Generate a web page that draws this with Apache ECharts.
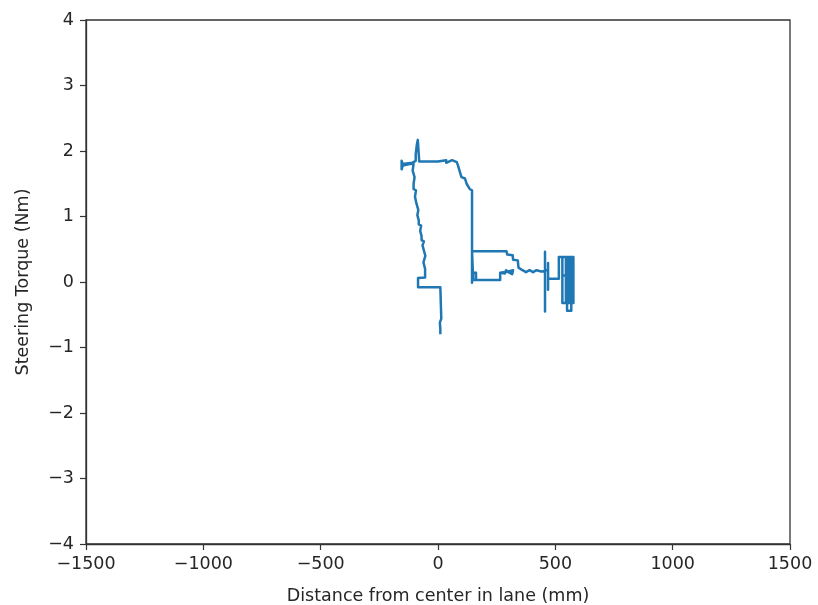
<!DOCTYPE html>
<html>
<head>
<meta charset="utf-8">
<script src="https://cdn.jsdelivr.net/npm/echarts@6/dist/echarts.min.js"></script>
<style>
  html, body { margin: 0; padding: 0; background: #fff; }
  #chart { width: 818px; height: 605px; }
</style>
</head>
<body>
<div id="chart"></div>
<script>
// Lateral offset in lane (mm) versus steering torque (Nm), in recorded order.
// Each row of distanceMm pairs with the same row of torqueNm (same count).
const distanceMm = [
  10, 10, 8, 14, 10, 10, -85, -85, -55, -55,                 // 10
  -62, -62, -54, -54, -60, -60, -66, -66, -60, -60,          // 10
  -70, -70, -76, -76, -72, -72, -82, -82, -88, -88,          // 10
  -84, -84, -92, -92, -98, -98, -94, -94, -104, -104,        // 10
  -100, -100, -108, -108, -104, -104, -120, -150, -155, -155, // 10
  -150, -110, -95, -95, -90, -90, -86, -86, -80, -80,        // 10
  0, 8, 8, 35, 35, 60, 62, 80, 85, 92,                       // 10
  95, 100, 115, 122, 130, 135, 145, 145,                     // 8
  145, 145, 265, 265, 285, 290, 300, 316, 320, 300, 265, 265, // 12
  162, 162, 150, 150, 145,                                   // 5
  145, 292, 295, 318, 320, 340, 343, 360, 375, 390, 405, 420, 440, // 13
  456, 456, 456, 456, 469, 469, 469, 469, 515, 515,          // 10
  577, 577, 530, 530, 545, 545, 560, 560, 550, 550,          // 10
  568, 568, 568, 540                                         // 4
];
const torqueNm = [
  -0.78, -0.72, -0.62, -0.56, -0.55, -0.08, -0.08, 0.06, 0.07, 0.2,   // 10
  0.22, 0.3, 0.32, 0.4, 0.42, 0.48, 0.5, 0.56, 0.58, 0.62,            // 10
  0.64, 0.7, 0.72, 0.78, 0.8, 0.86, 0.88, 0.94, 0.96, 1.02,           // 10
  1.04, 1.1, 1.12, 1.2, 1.22, 1.3, 1.32, 1.4, 1.42, 1.5,              // 10
  1.52, 1.6, 1.62, 1.7, 1.72, 1.8, 1.8, 1.78, 1.72, 1.85,             // 10
  1.8, 1.82, 1.85, 1.95, 1.97, 2.1, 2.12, 2.17, 2.17, 1.84,           // 10
  1.84, 1.84, 1.86, 1.86, 1.82, 1.86, 1.83, 1.83, 1.78, 1.75,         // 10
  1.66, 1.6, 1.58, 1.5, 1.48, 1.42, 1.4, 1.36,                        // 8
  -0.01, 0.03, 0.03, 0.14, 0.13, 0.18, 0.15, 0.12, 0.18, 0.16, 0.14, 0.03, // 12
  0.03, 0.14, 0.14, 0.03, 0.03,                                       // 5
  0.47, 0.47, 0.42, 0.41, 0.34, 0.33, 0.22, 0.18, 0.15, 0.18, 0.15, 0.18, 0.16,  // 13
  0.17, 0.46, -0.45, 0.18, 0.18, 0.29, -0.12, 0.05, 0.05, 0.38,       // 10
  0.38, -0.32, -0.32, 0.38, 0.38, -0.3, -0.3, 0.38, 0.38, -0.44,      // 10
  -0.44, 0.36, 0.1, 0.1                                               // 4
];

const xTicks = [-1500, 1500, 500];   // min, max, step
const yTicks = [-4, 4, 1];

const points = distanceMm.map((d, i) => [d, torqueNm[i]]);
const minus = v => String(v).replace('-', '\u2212');
const font = 'DejaVu Sans';
const textColor = '#262626';
const axisColor = '#333333';

const chart = echarts.init(document.getElementById('chart'), null, { renderer: 'canvas' });
chart.setOption({
  animation: false,
  backgroundColor: '#ffffff',
  grid: {
    left: 86, right: 28, top: 20, bottom: 61,
    containLabel: false,
    outerBoundsMode: 'none',
    show: true, borderColor: axisColor, borderWidth: 1.3, backgroundColor: 'transparent'
  },
  xAxis: {
    type: 'value',
    min: xTicks[0], max: xTicks[1], interval: xTicks[2],
    name: 'Distance from center in lane (mm)',
    nameLocation: 'middle', nameGap: 43,
    nameTextStyle: { fontFamily: font, fontSize: 17.5, color: textColor },
    axisLine: { show: true, onZero: false, lineStyle: { color: axisColor, width: 1.3 } },
    axisTick: { show: true, inside: false, length: 6, lineStyle: { color: axisColor, width: 1.2 } },
    axisLabel: { fontFamily: font, fontSize: 17.5, color: textColor, margin: 11, formatter: minus },
    splitLine: { show: false }
  },
  yAxis: {
    type: 'value',
    min: yTicks[0], max: yTicks[1], interval: yTicks[2],
    name: 'Steering Torque (Nm)',
    nameLocation: 'middle', nameGap: 54,
    nameTextStyle: { fontFamily: font, fontSize: 17.5, color: textColor },
    axisLine: { show: true, onZero: false, lineStyle: { color: axisColor, width: 1.3 } },
    axisTick: { show: true, inside: false, length: 6, lineStyle: { color: axisColor, width: 1.2 } },
    axisLabel: { fontFamily: font, fontSize: 17.5, color: textColor, margin: 12, formatter: minus },
    splitLine: { show: false }
  },
  series: [{
    type: 'line',
    data: points,
    showSymbol: false,
    symbol: 'none',
    lineStyle: { color: '#1f77b4', width: 2.5, join: 'round', cap: 'square' }
  }]
});
</script>
</body>
</html>
